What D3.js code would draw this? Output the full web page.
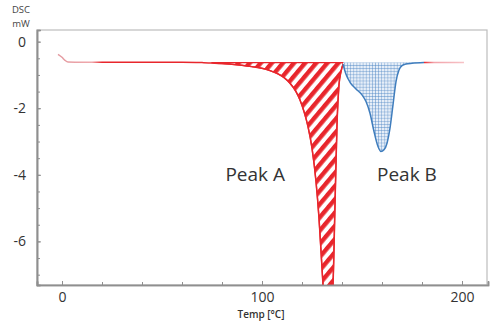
<!DOCTYPE html>
<html>
<head>
<meta charset="utf-8">
<script src="https://cdn.jsdelivr.net/npm/d3@7"></script>
<style>
  body { margin: 0; background: #fff; }
  text { font-family: "Open Sans", sans-serif; }
</style>
</head>
<body>
<div class="board"></div>
<script>
// DSC curve
const temps = [-2, 0, 1.5, 3, 10, 20, 30, 40, 50, 60, 70, 75, 80, 85, 90, 95, 100, 104, 108, 111, 114, 117, 119, 121, 123, 125, 127, 128.5, 130, 131.5, 133, 134.5, 135.5, 136.5, 137.5, 138.5, 139.5, 140.5, 142, 144, 147, 150, 152, 154, 156, 158, 159.5, 161, 162.5, 164, 165.5, 167, 168.5, 170, 172, 175, 181, 190, 201]
const dsc = [-0.38, -0.47, -0.56, -0.61, -0.62, -0.62, -0.62, -0.62, -0.62, -0.62, -0.63, -0.64, -0.66, -0.68, -0.71, -0.75, -0.8, -0.87, -0.97, -1.08, -1.25, -1.5, -1.75, -2.1, -2.55, -3.2, -4.2, -5.3, -6.8, -8.2, -8.8, -8.0, -7.3, -4.9, -2.5, -1.3, -0.9, -0.68, -0.98, -1.22, -1.42, -1.6, -1.8, -2.15, -2.7, -3.15, -3.3, -3.25, -3.05, -2.6, -1.9, -1.2, -0.85, -0.72, -0.67, -0.65, -0.63, -0.63, -0.63]

const peakA = [75, 140.5]
const peakB = [140.5, 181]
const baseline = -0.63

const peakLabels = [
    { name: "Peak A", t: 111.5, v: -4.2, anchor: "end" },
    { name: "Peak B", t: 157.5, v: -4.2, anchor: "start" }
]

const xTicks = [0, 100, 200]
const yTicks = [0, -2, -4, -6]

const RED = "#e8262c"
const BLUE = "#3f7dbd"

var margin = { top: 30, right: 2, bottom: 37, left: 37 },
    width = 490,
    height = 322

var svg = d3.select(".board")
    .append("svg")
    .attr("width", width)
    .attr("height", height)

let x = d3.scaleLinear()
    .domain([-12.5, 213])
    .range([margin.left, width - margin.right])

let y = d3.scaleLinear()
    .domain([-7.31, 0.35])
    .range([height - margin.bottom, margin.top])

let data = temps.map((t, i) => ({ t: t, v: dsc[i] }))

let defs = svg.append("defs")

defs.append("clipPath").attr("id", "plot")
    .append("rect")
    .attr("x", x.range()[0]).attr("y", y.range()[1])
    .attr("width", x.range()[1] - x.range()[0])
    .attr("height", y.range()[0] - y.range()[1])

// red stripes for peak A
let stripes = defs.append("pattern")
    .attr("id", "stripes")
    .attr("patternUnits", "userSpaceOnUse")
    .attr("width", 8.5).attr("height", 8.5)
    .attr("patternTransform", "rotate(40)")
stripes.append("rect").attr("width", 8.5).attr("height", 8.5).attr("fill", "white")
stripes.append("rect").attr("width", 4.4).attr("height", 8.5).attr("fill", RED)

// blue grid for peak B
let grid = defs.append("pattern")
    .attr("id", "grid")
    .attr("patternUnits", "userSpaceOnUse")
    .attr("width", 3.1).attr("height", 3.1)
grid.append("rect").attr("width", 3.1).attr("height", 3.1).attr("fill", "#e6eef8")
grid.append("path")
    .attr("d", "M0,0H3.1M0,0V3.1")
    .attr("stroke", "#4f86c4")
    .attr("stroke-width", 0.8)

// faded ends on the red curve
let grad = defs.append("linearGradient")
    .attr("id", "redLine")
    .attr("gradientUnits", "userSpaceOnUse")
    .attr("x1", x(-2)).attr("x2", x(201))
    .attr("y1", 0).attr("y2", 0)
let span = x(201) - x(-2)
let stop = t => (x(t) - x(-2)) / span
grad.append("stop").attr("offset", 0).attr("stop-color", "#e39aa0")
grad.append("stop").attr("offset", stop(15)).attr("stop-color", "#f0a8ac")
grad.append("stop").attr("offset", stop(20)).attr("stop-color", RED)
grad.append("stop").attr("offset", stop(181)).attr("stop-color", RED)
grad.append("stop").attr("offset", stop(186)).attr("stop-color", "#f2a3aa")
grad.append("stop").attr("offset", 1).attr("stop-color", "#f7c3c7")

// frame
svg.append("rect")
    .attr("x", x.range()[0]).attr("y", y.range()[1])
    .attr("width", x.range()[1] - x.range()[0] - 1)
    .attr("height", y.range()[0] - y.range()[1])
    .attr("fill", "none")
    .attr("stroke", "#bdbdbd")
    .attr("stroke-width", 1.2)

let plot = svg.append("g").attr("clip-path", "url(#plot)")

let area = d3.area()
    .x(d => x(d.t))
    .y0(y(baseline))
    .y1(d => y(d.v))
    .curve(d3.curveMonotoneX)

let line = d3.line()
    .x(d => x(d.t))
    .y(d => y(d.v))
    .curve(d3.curveMonotoneX)

plot.append("path")
    .datum(data.filter(d => d.t >= peakA[0] && d.t <= peakA[1]))
    .attr("d", area)
    .attr("fill", "url(#stripes)")
    .attr("stroke", RED)
    .attr("stroke-width", 1.3)

plot.append("path")
    .datum(data.filter(d => d.t >= peakB[0] && d.t <= peakB[1]))
    .attr("d", area)
    .attr("fill", "url(#grid)")
    .attr("stroke", "none")

plot.append("path")
    .datum(data.filter(d => d.t <= peakB[0]))
    .attr("d", line)
    .attr("fill", "none")
    .attr("stroke", "url(#redLine)")
    .attr("stroke-width", 1.5)

plot.append("path")
    .datum(data.filter(d => d.t >= peakB[1]))
    .attr("d", line)
    .attr("fill", "none")
    .attr("stroke", "url(#redLine)")
    .attr("stroke-width", 1.5)

plot.append("path")
    .datum(data.filter(d => d.t >= peakB[0] && d.t <= peakB[1]))
    .attr("d", line)
    .attr("fill", "none")
    .attr("stroke", BLUE)
    .attr("stroke-width", 1.5)

// axes
svg.append("g")
    .attr("transform", `translate(${x.range()[0]}, 0)`)
    .call(d3.axisLeft(y).tickValues(d3.range(-7, 0.01, 0.5)).tickSize(-3).tickFormat(""))
svg.append("g")
    .attr("transform", `translate(${x.range()[0]}, 0)`)
    .call(d3.axisLeft(y).tickValues(yTicks).tickSize(-4).tickPadding(11).tickFormat(d => d))

svg.append("g")
    .attr("transform", `translate(0, ${y.range()[0]})`)
    .call(d3.axisBottom(x).tickValues(d3.range(0, 201, 20)).tickSize(-3).tickFormat(""))
svg.append("g")
    .attr("transform", `translate(0, ${y.range()[0]})`)
    .call(d3.axisBottom(x).tickValues(xTicks).tickSize(-4).tickPadding(7).tickFormat(d => d))

svg.selectAll(".domain")
    .attr("stroke", "#8f8f8f")
    .attr("stroke-width", 1.6)
svg.selectAll(".tick line")
    .attr("stroke", "#8f8f8f")
svg.selectAll(".tick text")
    .attr("font-family", "Open Sans")
    .attr("font-size", 14)
    .attr("fill", "#333")

// titles
svg.append("text")
    .text("DSC")
    .attr("x", 21).attr("y", 13)
    .attr("text-anchor", "middle")
    .attr("font-size", 9.5)
    .attr("fill", "#444")
svg.append("text")
    .text("mW")
    .attr("x", 21).attr("y", 27)
    .attr("text-anchor", "middle")
    .attr("font-size", 9.5)
    .attr("fill", "#444")
svg.append("text")
    .text("Temp [°C]")
    .attr("x", 261).attr("y", 318)
    .attr("text-anchor", "middle")
    .attr("font-size", 10)
    .attr("font-weight", 600)
    .attr("fill", "#333")

svg.selectAll(".peak")
    .data(peakLabels)
    .enter()
    .append("text")
    .classed("peak", true)
    .text(d => d.name)
    .attr("x", d => x(d.t))
    .attr("y", d => y(d.v))
    .attr("text-anchor", d => d.anchor)
    .attr("font-size", 19)
    .attr("fill", "#333")
</script>
</body>
</html>
